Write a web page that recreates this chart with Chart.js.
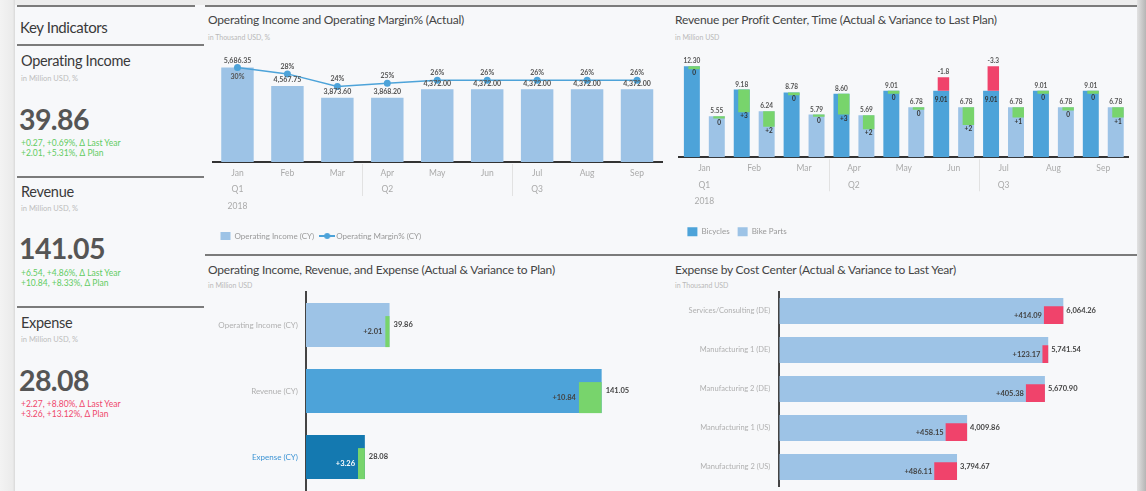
<!DOCTYPE html>
<html>
<head>
<meta charset="utf-8">
<script src="https://cdn.jsdelivr.net/npm/chart.js@4.4.1/dist/chart.umd.min.js"></script>
<style>
  body { margin: 0; width: 1146px; height: 491px; overflow: hidden; background: #f7f8fa; font-family: Lato, "Open Sans", sans-serif; position: relative; }
  .abs { position: absolute; }
  .edge-left { left: 0; top: 0; width: 15px; height: 491px; background: linear-gradient(to right, #f3f3f3, #ebebeb 85%, #d9d9d9); }
  .edge-right { left: 1137px; top: 0; width: 9px; height: 491px; background: linear-gradient(to right, #e2e2e2, #b5b5b5); }
  .edge-top { left: 0; top: 0; width: 1146px; height: 5px; background: #ededed; }
  .rule { background: #7b7b7b; height: 2px; }
  .title { color: #444; font-size: 12px; letter-spacing: -0.2px; white-space: nowrap; }
  .sub { color: #b9b9b9; font-size: 7px; white-space: nowrap; }
  .kpi-head { color: #3a3a3a; font-size: 15px; letter-spacing: -0.4px; }
  .kpi-name { color: #3a3a3a; font-size: 14.5px; letter-spacing: -0.3px; }
  .kpi-unit { color: #bdbdbd; font-size: 7.5px; }
  .kpi-val { color: #555; font-size: 28.5px; font-weight: bold; letter-spacing: -0.6px; }
  .kpi-delta { font-size: 8.5px; line-height: 10px; }
  .good { color: #62cc62; }
  .bad { color: #f0466b; }
  canvas { position: absolute; }
</style>
</head>
<body>
<div class="abs edge-top"></div>
<div class="abs edge-left"></div>
<div class="abs edge-right"></div>

<!-- key indicators -->
<div class="abs rule" style="left:17px;top:5px;width:178px;"></div>
<div class="abs kpi-head" style="left:20px;top:18px;">Key Indicators</div>
<div class="abs rule" style="left:17px;top:44px;width:187px;"></div>

<div class="abs kpi-name" style="left:21px;top:52px;">Operating Income</div>
<div class="abs kpi-unit" style="left:21px;top:74px;">in Million USD, %</div>
<div class="abs kpi-val" style="left:19px;top:102px;">39.86</div>
<div class="abs kpi-delta good" style="left:21px;top:138px;">+0.27, +0.69%, Δ Last Year<br>+2.01, +5.31%, Δ Plan</div>
<div class="abs rule" style="left:17px;top:176px;width:187px;"></div>

<div class="abs kpi-name" style="left:21px;top:183px;">Revenue</div>
<div class="abs kpi-unit" style="left:21px;top:204px;">in Million USD, %</div>
<div class="abs kpi-val" style="left:19px;top:231px;">141.05</div>
<div class="abs kpi-delta good" style="left:21px;top:268px;">+6.54, +4.86%, Δ Last Year<br>+10.84, +8.33%, Δ Plan</div>
<div class="abs rule" style="left:17px;top:306px;width:187px;"></div>

<div class="abs kpi-name" style="left:21px;top:314px;">Expense</div>
<div class="abs kpi-unit" style="left:21px;top:335px;">in Million USD, %</div>
<div class="abs kpi-val" style="left:19px;top:363px;">28.08</div>
<div class="abs kpi-delta bad" style="left:21px;top:399px;">+2.27, +8.80%, Δ Last Year<br>+3.26, +13.12%, Δ Plan</div>

<!-- chart panels -->
<div class="abs rule" style="left:205px;top:5px;width:932px;"></div>
<div class="abs rule" style="left:205px;top:254px;width:932px;"></div>

<div class="abs title" style="left:208px;top:12px;">Operating Income and Operating Margin% (Actual)</div>
<div class="abs sub" style="left:208px;top:33px;">in Thousand USD, %</div>
<div class="abs title" style="left:675px;top:12px;">Revenue per Profit Center, Time (Actual &amp; Variance to Last Plan)</div>
<div class="abs sub" style="left:675px;top:33px;">in Million USD</div>
<div class="abs title" style="left:208px;top:262px;">Operating Income, Revenue, and Expense (Actual &amp; Variance to Plan)</div>
<div class="abs sub" style="left:208px;top:281px;">in Million USD</div>
<div class="abs title" style="left:675px;top:262px;">Expense by Cost Center (Actual &amp; Variance to Last Year)</div>
<div class="abs sub" style="left:675px;top:281px;">in Thousand USD</div>

<canvas id="opChart" style="left:205px;top:44px;" width="462" height="206"></canvas>
<canvas id="revChart" style="left:670px;top:44px;" width="466" height="206"></canvas>
<canvas id="sumChart" style="left:205px;top:290px;" width="460" height="201"></canvas>
<canvas id="costChart" style="left:668px;top:290px;" width="468" height="201"></canvas>

<script>
// ---- data ----
const months = ['Jan', 'Feb', 'Mar', 'Apr', 'May', 'Jun', 'Jul', 'Aug', 'Sep'];
const quarters = ['Q1', '', '', 'Q2', '', '', 'Q3', '', ''];
const years = ['2018', '', '', '', '', '', '', '', ''];

const opIncome = [5686.35, 4567.75, 3873.60, 3868.20, 4372.00, 4372.00, 4372.00, 4372.00, 4372.00];
const opMargin = [30, 28, 24, 25, 26, 26, 26, 26, 26];

const bicycles = [12.30, 9.18, 8.78, 8.60, 9.01, 9.01, 9.01, 9.01, 9.01];
const bikeParts = [5.55, 6.24, 5.79, 5.69, 6.78, 6.78, 6.78, 6.78, 6.78];
const bicyclesVar = [0.4, 3.1, 0.4, 2.8, 0.4, -1.8, -3.3, 0.4, 0.4];
const bikePartsVar = [0.3, 2.1, 0.3, 1.9, 0.35, 2.4, 1.4, 0.45, 1.4];

const summaryCats = ['Operating Income (CY)', 'Revenue (CY)', 'Expense (CY)'];
const summaryActual = [39.86, 141.05, 28.08];
const summaryVarPlan = [2.01, 10.84, 3.26];

const costCenters = ['Services/Consulting (DE)', 'Manufacturing 1 (DE)', 'Manufacturing 2 (DE)', 'Manufacturing 1 (US)', 'Manufacturing 2 (US)'];
const costActual = [6064.26, 5741.54, 5670.90, 4009.86, 3794.67];
const costVarLY = [414.09, 123.17, 405.38, 458.15, 486.11];

// ---- styling ----
const LIGHT = '#9dc3e6';
const MID = '#4da3d9';
const DARK = '#1479b0';
const GREEN = '#78d46c';
const RED = '#f0436b';
const FONT = 'Lato, "Open Sans", sans-serif';

Chart.defaults.font.family = FONT;
Chart.defaults.animation = false;
Chart.defaults.plugins.tooltip.enabled = false;

const fmt2 = v => v.toLocaleString('en-US', { minimumFractionDigits: 2, maximumFractionDigits: 2 });
const fmtVar = v => v < 0 ? v.toFixed(1) : (Math.round(v) === 0 ? '0' : '+' + Math.round(v));
const timeLabels = months.map((m, i) => [m, quarters[i], years[i]]);

function text(ctx, s, x, y, align, color, size) {
  ctx.save();
  ctx.font = 'bold ' + (size || 7) + 'px ' + FONT;
  ctx.fillStyle = color || '#555';
  ctx.textAlign = align || 'center';
  ctx.textBaseline = 'middle';
  ctx.fillText(s, x, y);
  ctx.restore();
}

// thin separators between quarters under the month ticks
const quarterLines = {
  id: 'quarterLines',
  afterDraw(chart) {
    const x = chart.scales.x, ctx = chart.ctx;
    ctx.save();
    ctx.strokeStyle = '#e2e2e2';
    ctx.lineWidth = 1;
    [3, 6].forEach(i => {
      const px = Math.round((x.getPixelForTick(i - 1) + x.getPixelForTick(i)) / 2) + 0.5;
      ctx.beginPath();
      ctx.moveTo(px, x.top + 2);
      ctx.lineTo(px, x.top + 34);
      ctx.stroke();
    });
    ctx.restore();
  }
};

// right / bottom align the narrower variance bars inside the actual bar
function alignVariance(pairs, horizontal) {
  return {
    id: 'alignVariance',
    afterDatasetsUpdate(chart) {
      pairs.forEach(([vi, ai]) => {
        const v = chart.getDatasetMeta(vi).data, a = chart.getDatasetMeta(ai).data;
        v.forEach((el, i) => {
          if (horizontal) el.y = a[i].y + (a[i].height - el.height) / 2;
          else el.x = a[i].x + (a[i].width - el.width) / 2;
        });
      });
    }
  };
}

// fixed-width category axis without the extra label padding above and below
const fixAxis = w => s => { s.width = w; s.paddingTop = 0; s.paddingBottom = 0; };

// legend icon for line + marker
const lineIcon = document.createElement('canvas');
lineIcon.width = 16; lineIcon.height = 8;
(function () {
  const c = lineIcon.getContext('2d');
  c.strokeStyle = MID; c.lineWidth = 2;
  c.beginPath(); c.moveTo(0, 4); c.lineTo(16, 4); c.stroke();
  c.fillStyle = MID; c.beginPath(); c.arc(8, 4, 3, 0, Math.PI * 2); c.fill();
})();

// ---- chart 1: operating income & margin ----
new Chart(document.getElementById('opChart'), {
  data: {
    labels: timeLabels,
    datasets: [
      {
        type: 'line', label: 'Operating Margin% (CY)', data: opMargin, yAxisID: 'pct',
        borderColor: MID, backgroundColor: MID, borderWidth: 1.5, pointRadius: 3.5, pointBackgroundColor: MID, pointBorderWidth: 0
      },
      {
        type: 'bar', label: 'Operating Income (CY)', data: opIncome, yAxisID: 'y',
        backgroundColor: LIGHT, barPercentage: 0.65, categoryPercentage: 1
      }
    ]
  },
  options: {
    responsive: false,
    layout: { padding: { left: 7.5, right: 5, top: 11, bottom: 0 } },
    scales: {
      x: {
        grid: { display: false, drawTicks: false },
        border: { display: true, color: '#333', width: 2 },
        ticks: { color: '#aaa', font: { size: 8.5, lineHeight: 1.92 }, padding: 3, autoSkip: false, maxRotation: 0 },
        afterFit: s => { s.height = 62; }
      },
      y: { display: false, min: 0, max: 6440 },
      pct: { display: false, min: 0, max: 34 }
    },
    plugins: {
      legend: {
        position: 'bottom', align: 'start', reverse: true,
        labels: {
          color: '#999', font: { size: 8 }, boxWidth: 10, boxHeight: 9, padding: 8,
          usePointStyle: true, pointStyleWidth: 10,
          generateLabels(chart) {
            const items = Chart.defaults.plugins.legend.labels.generateLabels(chart);
            items.forEach(it => {
              if (it.datasetIndex === 0) { it.pointStyle = lineIcon; it.lineWidth = 0; }
              else { it.pointStyle = 'rect'; it.lineWidth = 0; it.strokeStyle = LIGHT; }
              it.fontColor = '#999';
            });
            return items;
          }
        }
      }
    }
  },
  plugins: [quarterLines, {
    id: 'opLabels',
    afterDatasetsDraw(chart) {
      const ctx = chart.ctx;
      const pts = chart.getDatasetMeta(0).data, bars = chart.getDatasetMeta(1).data;
      bars.forEach((b, i) => {
        const p = pts[i];
        if (Math.abs(p.y - b.y) < 8) {
          text(ctx, fmt2(opIncome[i]), b.x, p.y - 7);
          text(ctx, opMargin[i] + '%', b.x, p.y + 9);
        } else {
          text(ctx, fmt2(opIncome[i]), b.x, b.y - 6);
          text(ctx, opMargin[i] + '%', b.x, p.y - 7.5);
        }
      });
    }
  }]
});

// ---- chart 2: revenue per profit center ----
const varRange = (act, v) => act.map((a, i) => v[i] >= 0 ? [a - v[i], a] : [a, a - v[i]]);
const varColor = v => ctx => v[ctx.dataIndex] >= 0 ? GREEN : RED;

new Chart(document.getElementById('revChart'), {
  type: 'bar',
  data: {
    labels: timeLabels,
    datasets: [
      { label: 'var-b', data: varRange(bicycles, bicyclesVar), stack: 'b', backgroundColor: varColor(bicyclesVar), barPercentage: 0.46, categoryPercentage: 1 },
      { label: 'var-p', data: varRange(bikeParts, bikePartsVar), stack: 'p', backgroundColor: varColor(bikePartsVar), barPercentage: 0.46, categoryPercentage: 1 },
      { label: 'Bicycles', data: bicycles, stack: 'b', backgroundColor: MID, barPercentage: 0.64, categoryPercentage: 1 },
      { label: 'Bike Parts', data: bikeParts, stack: 'p', backgroundColor: LIGHT, barPercentage: 0.64, categoryPercentage: 1 }
    ]
  },
  options: {
    responsive: false,
    layout: { padding: { left: 9.4, right: 7.8, top: 12, bottom: 3.7 } },
    scales: {
      x: {
        grid: { display: false, drawTicks: false },
        border: { display: true, color: '#333', width: 2 },
        ticks: { color: '#aaa', font: { size: 8.5, lineHeight: 1.92 }, padding: 3, autoSkip: false, maxRotation: 0 },
        afterFit: s => { s.height = 62; }
      },
      y: { display: false, stacked: false, min: 0, max: 13.7 }
    },
    plugins: {
      legend: {
        position: 'bottom', align: 'start',
        labels: {
          color: '#999', font: { size: 8 }, boxWidth: 10, boxHeight: 9, padding: 8,
          filter: it => !it.text.startsWith('var')
        }
      }
    }
  },
  plugins: [quarterLines, alignVariance([[0, 2], [1, 3]], false), {
    id: 'revLabels',
    afterDatasetsDraw(chart) {
      const ctx = chart.ctx;
      [[0, 2, bicycles, bicyclesVar], [1, 3, bikeParts, bikePartsVar]].forEach(([vi, ai, act, vr]) => {
        const vEls = chart.getDatasetMeta(vi).data, aEls = chart.getDatasetMeta(ai).data;
        aEls.forEach((a, i) => {
          const v = vEls[i];
          if (vr[i] < 0) {
            text(ctx, fmtVar(vr[i]), v.x, v.y - 5, 'center', '#555', 6.5);
            text(ctx, act[i].toFixed(2), a.x, a.y + 9, 'center', '#333', 6.5);
          } else {
            text(ctx, act[i].toFixed(2), a.x, a.y - 5, 'center', '#555', 6.5);
            text(ctx, fmtVar(vr[i]), v.x, v.base + 4, 'center', '#333', 6.5);
          }
        });
      });
    }
  }]
});

// ---- chart 3: operating income, revenue, expense vs plan ----
const hRange = (act, v) => act.map((a, i) => [a - v[i], a]);

new Chart(document.getElementById('sumChart'), {
  type: 'bar',
  data: {
    labels: summaryCats,
    datasets: [
      { label: 'var', data: hRange(summaryActual, summaryVarPlan), stack: 's', backgroundColor: GREEN, barPercentage: 0.47, categoryPercentage: 1 },
      { label: 'actual', data: summaryActual, stack: 's', backgroundColor: [LIGHT, MID, DARK], barPercentage: 0.67, categoryPercentage: 1 }
    ]
  },
  options: {
    indexAxis: 'y',
    responsive: false,
    layout: { padding: { left: 0, right: 10, top: 2, bottom: 1 } },
    scales: {
      x: { display: false, stacked: false, min: 0, max: 166.5 },
      y: {
        grid: { display: false, drawTicks: false },
        border: { display: true, color: '#444', width: 2 },
        ticks: { color: c => c.index === 2 ? '#3d94d4' : '#b0b0b0', font: { size: 8 }, padding: 8 },
        afterFit: fixAxis(101)
      }
    },
    plugins: { legend: { display: false } }
  },
  plugins: [alignVariance([[0, 1]], true), {
    id: 'sumLabels',
    afterDatasetsDraw(chart) {
      const ctx = chart.ctx;
      const vEls = chart.getDatasetMeta(0).data, aEls = chart.getDatasetMeta(1).data;
      aEls.forEach((a, i) => {
        const v = vEls[i];
        text(ctx, summaryActual[i].toFixed(2), a.x + 4, a.y, 'left', '#444', 7.5);
        text(ctx, '+' + summaryVarPlan[i].toFixed(2), v.base - 3, v.y, 'right', i === 2 ? '#fff' : '#444', 7.5);
      });
    }
  }]
});

// ---- chart 4: expense by cost center ----
new Chart(document.getElementById('costChart'), {
  type: 'bar',
  data: {
    labels: costCenters,
    datasets: [
      { label: 'var', data: hRange(costActual, costVarLY), stack: 's', backgroundColor: RED, barPercentage: 0.46, categoryPercentage: 1 },
      { label: 'actual', data: costActual, stack: 's', backgroundColor: LIGHT, barPercentage: 0.67, categoryPercentage: 1 }
    ]
  },
  options: {
    indexAxis: 'y',
    responsive: false,
    layout: { padding: { left: 0, right: 8, top: 1.5, bottom: 4.5 } },
    scales: {
      x: { display: false, stacked: false, min: 0, max: 7445 },
      y: {
        grid: { display: false, drawTicks: false },
        border: { display: true, color: '#444', width: 2 },
        ticks: { color: '#b0b0b0', font: { size: 7.5 }, padding: 9 },
        afterFit: fixAxis(111.3)
      }
    },
    plugins: { legend: { display: false } }
  },
  plugins: [alignVariance([[0, 1]], true), {
    id: 'costLabels',
    afterDatasetsDraw(chart) {
      const ctx = chart.ctx;
      const vEls = chart.getDatasetMeta(0).data, aEls = chart.getDatasetMeta(1).data;
      aEls.forEach((a, i) => {
        const v = vEls[i];
        text(ctx, fmt2(costActual[i]), a.x + 3, a.y, 'left', '#444', 7.5);
        text(ctx, '+' + fmt2(costVarLY[i]), v.base - 2, v.y, 'right', '#444', 7.5);
      });
    }
  }]
});
</script>
</body>
</html>
